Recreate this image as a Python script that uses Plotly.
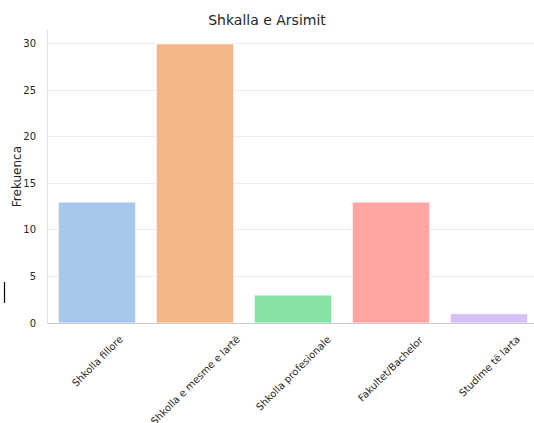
import plotly.graph_objects as go

categories = ["Shkolla fillore", "Shkolla e mesme e lartë", "Shkolla profesionale",
              "Fakultet/Bachelor", "Studime të larta"]
counts = [13, 30, 3, 13, 1]
colors = ["#a7c8ed", "#f5b68a", "#86e1a6", "#ffa6a5", "#d6c0f6"]
y_ticks = [0, 5, 10, 15, 20, 25, 30]

FONT = "DejaVu Sans"
xi = list(range(len(categories)))

fig = go.Figure()
fig.add_trace(go.Bar(
    x=xi, y=counts, width=0.79,
    marker=dict(color=colors, line=dict(color="white", width=0.8)),
    showlegend=False, hoverinfo="skip",
))

annotations = []
for i, c in enumerate(categories):
    annotations.append(dict(
        x=i, y=0, xref="x", yref="y", text=c, showarrow=False,
        textangle=-45, xanchor="center", yanchor="top", yshift=-8,
        font=dict(family=FONT, size=10, color="#262626"),
    ))
annotations.append(dict(
    x=-0.0644, y=0.5, xref="paper", yref="paper", text="Frekuenca",
    showarrow=False, textangle=-90, xanchor="center", yanchor="middle",
    font=dict(family=FONT, size=12, color="#262626"),
))

fig.update_layout(
    width=534, height=423,
    margin=dict(l=48, r=0, t=30, b=100, pad=0, autoexpand=False),
    paper_bgcolor="white", plot_bgcolor="white",
    font=dict(family=FONT, color="#262626"),
    title=dict(text="Shkalla e Arsimit", x=0.5, xanchor="center",
               y=1 - 20 / 423, yanchor="middle", yref="container",
               font=dict(family=FONT, size=14, color="#262626")),
    annotations=annotations,
    shapes=[dict(type="line", xref="paper", yref="paper",
                 x0=-0.0895, x1=-0.0895, y0=0.0683, y1=0.1399,
                 line=dict(color="black", width=1.2))],
    bargap=0.2,
)
fig.update_xaxes(
    range=[-0.5, 4.459], tickvals=xi, showticklabels=False,
    showgrid=False, zeroline=False, showline=True, linecolor="#cccccc",
    linewidth=1, ticks="", fixedrange=True, automargin=False,
)
fig.update_yaxes(
    range=[0, 31.5], tickvals=y_ticks, ticktext=[str(t) for t in y_ticks],
    showgrid=True, gridcolor="#ebebeb", gridwidth=1, zeroline=False,
    showline=True, linecolor="#e0e0e0", linewidth=1, ticks="",
    ticklabelstandoff=9, automargin=False, fixedrange=True,
    tickfont=dict(family=FONT, size=10, color="#262626"),
)

fig.write_html(
    "out.html",
    config={"displayModeBar": False, "staticPlot": True},
    post_script="document.body.style.margin='0';document.body.style.overflow='hidden';",
)
